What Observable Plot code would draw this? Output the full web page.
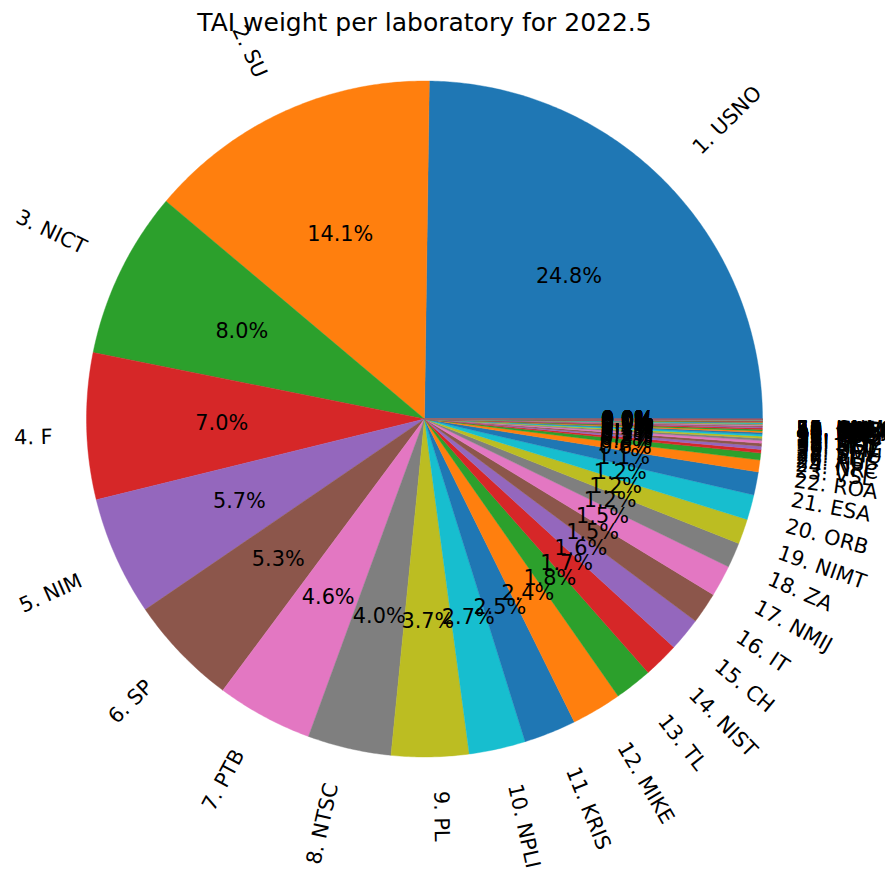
<!DOCTYPE html>
<html><head><meta charset="utf-8">
<script src="https://cdn.jsdelivr.net/npm/d3@7"></script>
<script src="https://cdn.jsdelivr.net/npm/@observablehq/plot@0.6"></script>
<style>body{margin:0;background:#fff}</style>
</head><body><div id="chart"></div>
<script>
const title = "TAI weight per laboratory for 2022.5";
const labs = ["USNO","SU","NICT","F","NIM","SP","PTB","NTSC","PL","NPLI",
  "KRIS","MIKE","TL","NIST","CH","IT","NMIJ","ZA","NIMT","ORB",
  "ESA","ROA","VSL","NRC","NPL","AUS","TP","SMU","BEV","UME",
  "MSL","SCL","INTI","LT","DLR","IFAG","NAO","TCC","CAO","HKO",
  "SIQ","BY","UA","GUM","IPQ","MKEH","DMDM","KIM","NIS","ONRJ",
  "BIM","EIM","NMLS","CNM","JV"];
const weights = [24.8,14.1,8.0,7.0,5.7,5.3,4.6,4.0,3.7,2.7,
  2.5,2.4,1.8,1.7,1.6,1.5,1.5,1.2,1.2,1.2,
  1.1,0.57,0.33,0.17,0.16,0.14,0.12,0.11,0.10,0.09,
  0.08,0.08,0.07,0.06,0.05,0.05,0.04,0.04,0.03,0.03,
  0.03,0.02,0.02,0.02,0.02,0.01,0.01,0.01,0.01,0.01,
  0.01,0.005,0.005,0.005,0.005];
const palette = ["#1f77b4","#ff7f0e","#2ca02c","#d62728","#9467bd","#8c564b","#e377c2","#7f7f7f","#bcbd22","#17becf"];

const W = 885, H = 876, CX = 424, CY = 418.5, R = 338;
const FS = 20.8, TFS = 25, FONT = "DejaVu Sans";
const rad = d => d * Math.PI / 180;

const total = d3.sum(weights);
let cum = 0;
const slices = weights.map((w, i) => {
  const t1 = cum / total * 360; cum += w; const t2 = cum / total * 360;
  return {i, name: `${i + 1}. ${labs[i]}`, pct: w / total * 100, t1, t2, tm: (t1 + t2) / 2, color: palette[i % 10]};
});

const wedgePts = slices.flatMap(s => {
  const pts = [{id: s.i, x: 0, y: 0, color: s.color}];
  const n = Math.max(2, Math.ceil((s.t2 - s.t1) / 0.5));
  for (let k = 0; k <= n; k++) {
    const a = rad(s.t1 + (s.t2 - s.t1) * k / n);
    pts.push({id: s.i, x: Math.cos(a), y: Math.sin(a), color: s.color});
  }
  pts.push({id: s.i, x: 0, y: 0, color: s.color});
  return pts;
});

const ctx = document.createElement("canvas").getContext("2d");
ctx.font = `${FS}px "${FONT}"`;
const labels = slices.map(s => {
  const a = rad(s.tm);
  const xt = 1.1 * Math.cos(a), yt = 1.1 * Math.sin(a);
  const rot = s.tm + (xt > 0 ? 0 : 180);
  const w = ctx.measureText(s.name).width, h = FS * 0.968;
  const phi = rad(rot);
  const BW = w * Math.abs(Math.cos(phi)) + h * Math.abs(Math.sin(phi));
  const BH = w * Math.abs(Math.sin(phi)) + h * Math.abs(Math.cos(phi));
  return {name: s.name, lx: xt + (xt > 0 ? 1 : -1) * BW / 2 / R, ly: yt + (yt > 0 ? 1 : -1) * BH / 2 / R, rot: -rot};
});
const pcts = slices.map(s => ({px: 0.6 * Math.cos(rad(s.tm)), py: 0.6 * Math.sin(rad(s.tm)), t: s.pct.toFixed(1) + "%"}));

const chart = Plot.plot({
  width: W, height: H,
  marginTop: 0, marginRight: 0, marginBottom: 0, marginLeft: 0,
  x: {domain: [-CX / R, (W - CX) / R], axis: null},
  y: {domain: [-(H - CY) / R, CY / R], axis: null},
  color: {type: "identity"},
  style: {fontFamily: FONT, background: "white", overflow: "visible"},
  marks: [
    Plot.line(wedgePts, {x: "x", y: "y", z: "id", fill: "color", stroke: "color", strokeWidth: 0.4, curve: "linear"}),
    Plot.text(pcts, {x: "px", y: "py", text: "t", fontSize: FS, fontFamily: FONT, fill: "black", textAnchor: "middle", lineAnchor: "middle"}),
    Plot.text(labels, {x: "lx", y: "ly", text: "name", rotate: "rot", fontSize: FS, fontFamily: FONT, fill: "black", textAnchor: "middle", lineAnchor: "middle"}),
    Plot.text([title], {text: d => d, frameAnchor: "top", lineAnchor: "middle", dx: CX - W / 2, dy: 22.5, fontSize: TFS, fontFamily: FONT, fill: "black"})
  ]
});
document.getElementById("chart").appendChild(chart);
</script>
</body></html>
